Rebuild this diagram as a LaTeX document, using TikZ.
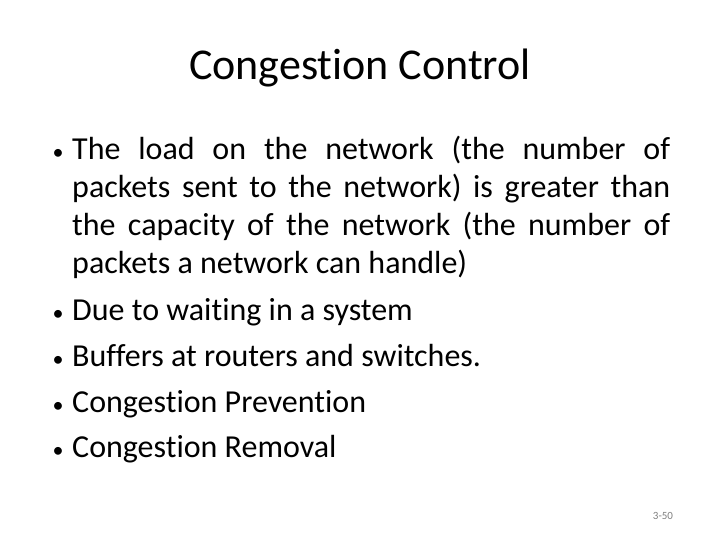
\documentclass[tikz,border=0pt]{standalone}
\usepackage{fontspec}
\setmainfont{Carlito}[RawFeature=-liga]
\begin{document}
\begin{tikzpicture}[x=1pt,y=1pt,
  body/.style={anchor=base west,inner sep=0pt,font=\fontsize{32}{38}\selectfont},
  bul/.style={anchor=base,inner sep=0pt,font=\fontsize{22}{26}\selectfont}]
\useasboundingbox[fill=white] (0,0) rectangle (720,-540);
\node[anchor=base,inner sep=0pt,font=\fontsize{44}{52}\selectfont] (title) at (360,-80) {Congestion Control};
\node[body,text width=598pt,align=justify,anchor=north west] (b1) at (72,-136) {\hyphenpenalty=10000 The load on the network (the number of\linebreak packets sent to the network) is greater than\linebreak the capacity of the network (the number of\linebreak packets a network can handle)};
\node[bul] (d1) at (58,-160) {•};
\node[body] (b2) at (72,-320) {Due to waiting in a system};
\node[bul] (d2) at (58,-320) {•};
\node[body] (b3) at (72,-366) {Buffers at routers and switches.};
\node[bul] (d3) at (58,-366) {•};
\node[body] (b4) at (72,-412) {Congestion Prevention};
\node[bul] (d4) at (58,-412) {•};
\node[body] (b5) at (72,-457) {Congestion Removal};
\node[bul] (d5) at (58,-457) {•};
\node[anchor=base,inner sep=0pt,font=\fontsize{11}{13}\selectfont,text=gray] (pg) at (663,-519) {3-50};
\end{tikzpicture}
\end{document}
